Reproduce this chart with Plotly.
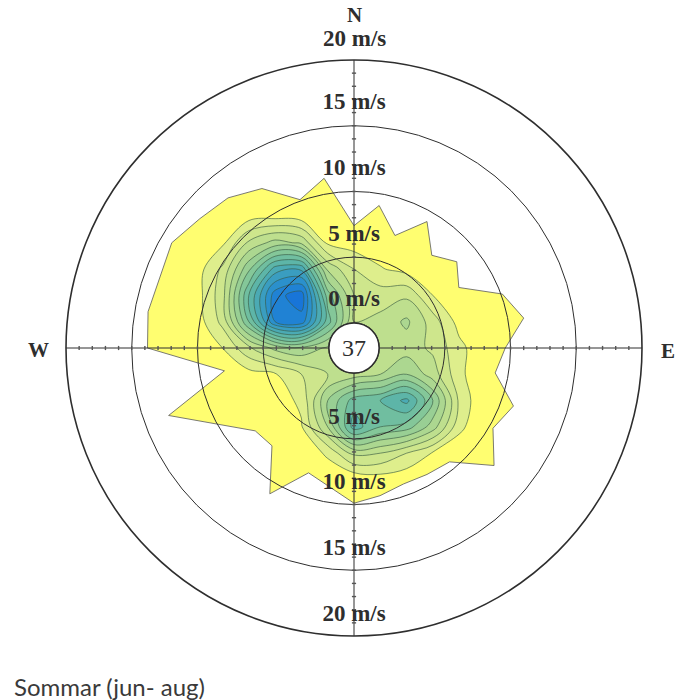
import numpy as np
import plotly.graph_objects as go

# ---------------------------------------------------------------------------
# Summer wind rose (Jun - Aug)
# ---------------------------------------------------------------------------

# Outer envelope of observed winds, one value per 10-degree sector (m/s)
sector_deg = list(range(0, 360, 10))
envelope_ms = [7.4, 9.1, 7.2, 9.2, 7.3, 8.3, 7.3, 10.1, 11.2, 9.6,
               9.0, 11.0, 10.3, 12.0, 9.4, 9.2, 9.1, 9.5, 9.9, 8.8,
               8.2, 10.9, 7.8, 7.9, 9.8, 13.1, 8.1, 13.8, 14.0, 13.8,
               14.1, 13.4, 13.0, 12.1, 10.1, 11.2]

# Frequency density on an east/north grid (rose units, origin at the centre)
grid_east = [-12, -10, -8, -6, -4, -2, 0, 2, 4, 6, 8, 10]
grid_north = [10, 8, 6, 4, 2, 0, -2, -4, -6, -8, -10]
density = [
    [0.0, 0.3, 0.6, 0.7, 0.5, 0.4, 0.3, 0.2, 0.0, 0.0, 0.0, 0.0],
    [0.2, 0.8, 3.2, 4.4, 3.8, 0.8, 0.5, 0.3, 0.1, 0.0, 0.0, 0.0],
    [0.5, 2.2, 5.8, 9.5, 9.8, 3.8, 2.0, 1.1, 0.6, 0.2, 0.0, 0.0],
    [0.5, 2.6, 8.0, 12.6, 13.6, 6.5, 3.0, 2.5, 2.8, 1.0, 0.3, 0.0],
    [0.4, 2.3, 7.0, 12.0, 12.6, 7.5, 3.0, 3.3, 4.2, 2.5, 0.6, 0.0],
    [0.3, 1.0, 2.8, 4.3, 4.8, 3.8, 3.2, 3.2, 3.5, 2.8, 1.3, 0.2],
    [0.0, 0.3, 0.6, 0.9, 2.0, 3.0, 3.5, 4.0, 5.0, 3.5, 1.3, 0.0],
    [0.0, 0.0, 0.2, 0.5, 1.2, 5.0, 7.5, 8.0, 9.3, 6.0, 1.8, 0.0],
    [0.0, 0.0, 0.0, 0.3, 0.9, 4.0, 8.5, 7.0, 6.5, 4.5, 1.3, 0.0],
    [0.0, 0.0, 0.0, 0.0, 0.2, 1.2, 3.3, 3.0, 2.0, 0.9, 0.2, 0.0],
    [0.0, 0.0, 0.0, 0.0, 0.0, 0.2, 0.2, 0.5, 0.3, 0.0, 0.0, 0.0],
]

speed_rings = [0, 5, 10, 15, 20]
calm_pct = 37
caption = "Sommar (jun- aug)"

# ---------------------------------------------------------------------------
# Geometry / style
# ---------------------------------------------------------------------------
W, H = 678, 700
R_MAX = 20
HOLE = 0.087
OFFSET = HOLE * R_MAX / (1 - HOLE)      # radial units swallowed by the hole
EXTENT = R_MAX + OFFSET

CX, CY, RPX = 354, 348, 288             # centre and radius in pixels
PX_PER_UNIT = RPX / EXTENT
DOM_X = [(CX - RPX) / W, (CX + RPX) / W]
DOM_Y = [(H - CY - RPX) / H, (H - CY + RPX) / H]

YELLOW = "rgb(255,254,112)"
INK = "#2e2e2e"
band_colors = [
    "rgb(222,238,140)", "rgb(206,230,140)", "rgb(190,223,142)",
    "rgb(172,215,144)", "rgb(153,207,148)", "rgb(132,199,153)",
    "rgb(112,190,160)", "rgb(93,181,168)", "rgb(75,170,180)",
    "rgb(58,157,192)", "rgb(43,144,204)", "rgb(32,130,212)",
    "rgb(24,117,216)",
]
n_bands = len(band_colors)
colorscale = [[0.0, "rgba(255,255,255,0)"]] + [
    [(k + 1) / n_bands, c] for k, c in enumerate(band_colors)
]

SERIF = "Liberation Serif, Times New Roman, serif"
label_font = dict(family=SERIF, size=23, color=INK, weight="bold")
compass_font = dict(family=SERIF, size=21, color=INK, weight="bold")
LABEL_LIFT = 1.7                         # label offset above a ring (m/s)

# ---------------------------------------------------------------------------
# Traces
# ---------------------------------------------------------------------------
theta = np.deg2rad(sector_deg + sector_deg[:1])
env = np.array(envelope_ms + envelope_ms[:1])
env_x = (OFFSET + env) * np.sin(theta)
env_y = (OFFSET + env) * np.cos(theta)

fig = go.Figure()

# yellow envelope (base cartesian subplot)
fig.add_trace(go.Scatter(
    x=env_x, y=env_y, mode="lines", fill="toself", fillcolor=YELLOW,
    line=dict(color="rgba(90,90,90,0.8)", width=1),
    xaxis="x", yaxis="y", hoverinfo="skip", showlegend=False,
))

# filled density contours (overlaid subplot, drawn above the envelope)
fig.add_trace(go.Contour(
    x=grid_east, y=grid_north[::-1], z=density[::-1],
    xaxis="x2", yaxis="y2",
    colorscale=colorscale, showscale=False,
    contours=dict(start=1, end=13, size=1, coloring="fill"),
    line=dict(color="rgba(55,90,65,0.7)", width=0.9, smoothing=1.0),
    hoverinfo="skip",
))

# minor tick marks along the compass axes every 1 m/s
tick_r = list(range(1, R_MAX))
fig.add_trace(go.Scatterpolar(
    r=tick_r + tick_r, theta=[0] * len(tick_r) + [180] * len(tick_r),
    mode="markers",
    marker=dict(symbol="line-ew", size=3, line=dict(color="#555", width=1.4)),
    hoverinfo="skip", showlegend=False,
))
fig.add_trace(go.Scatterpolar(
    r=tick_r + tick_r, theta=[90] * len(tick_r) + [270] * len(tick_r),
    mode="markers",
    marker=dict(symbol="line-ns", size=3, line=dict(color="#555", width=1.4)),
    hoverinfo="skip", showlegend=False,
))

# speed labels, set just above each ring on the north and south spokes
inner_rings = [v for v in speed_rings if v < R_MAX]
fig.add_trace(go.Scatterpolar(
    r=[v + LABEL_LIFT for v in inner_rings], theta=[0] * len(inner_rings),
    text=[f"{v} m/s" for v in inner_rings],
    mode="text", textfont=label_font, cliponaxis=False,
    hoverinfo="skip", showlegend=False,
))
fig.add_trace(go.Scatterpolar(
    r=[v - 1.6 for v in speed_rings[1:]], theta=[180] * (len(speed_rings) - 1),
    text=[f"{v} m/s" for v in speed_rings[1:]],
    mode="text", textfont=label_font, cliponaxis=False,
    hoverinfo="skip", showlegend=False,
))

# ---------------------------------------------------------------------------
# Layout
# ---------------------------------------------------------------------------
hidden_axis = dict(range=[-EXTENT, EXTENT], visible=False, fixedrange=True)


def paper_xy(px, py):
    return px / W, (H - py) / H


top_label_py = CY - (OFFSET + R_MAX + LABEL_LIFT) * PX_PER_UNIT
annotations = [
    dict(x=0, y=0, xref="x", yref="y", text=str(calm_pct), showarrow=False,
         font=dict(family=SERIF, size=24, color=INK)),
]
for text, (px, py), font in [
    (f"{R_MAX} m/s", (CX, top_label_py + 1), label_font),
    ("N", (354, 15), compass_font),
    ("W", (38, 350), compass_font),
    ("E", (668, 351), compass_font),
]:
    ax, ay = paper_xy(px, py)
    annotations.append(dict(
        x=ax, y=ay, xref="paper", yref="paper", text=text, showarrow=False,
        xanchor="center", yanchor="middle", font=font,
    ))
cx_, cy_ = paper_xy(12, 686)
annotations.append(dict(
    x=cx_, y=cy_, xref="paper", yref="paper", text=caption,
    xanchor="left", yanchor="middle", showarrow=False,
    font=dict(family="Lato, sans-serif", size=24, color="#3a3a3a"),
))

fig.update_layout(
    width=W, height=H,
    margin=dict(l=0, r=0, t=0, b=0),
    paper_bgcolor="white", plot_bgcolor="rgba(0,0,0,0)",
    showlegend=False,
    xaxis=dict(domain=DOM_X, anchor="y", **hidden_axis),
    yaxis=dict(domain=DOM_Y, anchor="x", **hidden_axis),
    xaxis2=dict(overlaying="x", anchor="y2", **hidden_axis),
    yaxis2=dict(overlaying="y", anchor="x2", **hidden_axis),
    polar=dict(
        domain=dict(x=DOM_X, y=DOM_Y),
        bgcolor="rgba(0,0,0,0)",
        hole=HOLE,
        radialaxis=dict(
            range=[0, R_MAX], tickvals=speed_rings[1:],
            showticklabels=False, ticks="", showline=False,
            gridcolor=INK, gridwidth=1.4,
        ),
        angularaxis=dict(
            rotation=90, direction="clockwise",
            tickvals=[0, 90, 180, 270], showticklabels=False, ticks="",
            gridcolor=INK, gridwidth=1.1,
            showline=True, linecolor=INK, linewidth=1.6,
        ),
    ),
    shapes=[dict(
        type="circle", xref="x", yref="y",
        x0=-OFFSET, x1=OFFSET, y0=-OFFSET, y1=OFFSET,
        fillcolor="white", line=dict(color=INK, width=1.4), layer="above",
    )],
    annotations=annotations,
)

fig.write_html("out.html")
